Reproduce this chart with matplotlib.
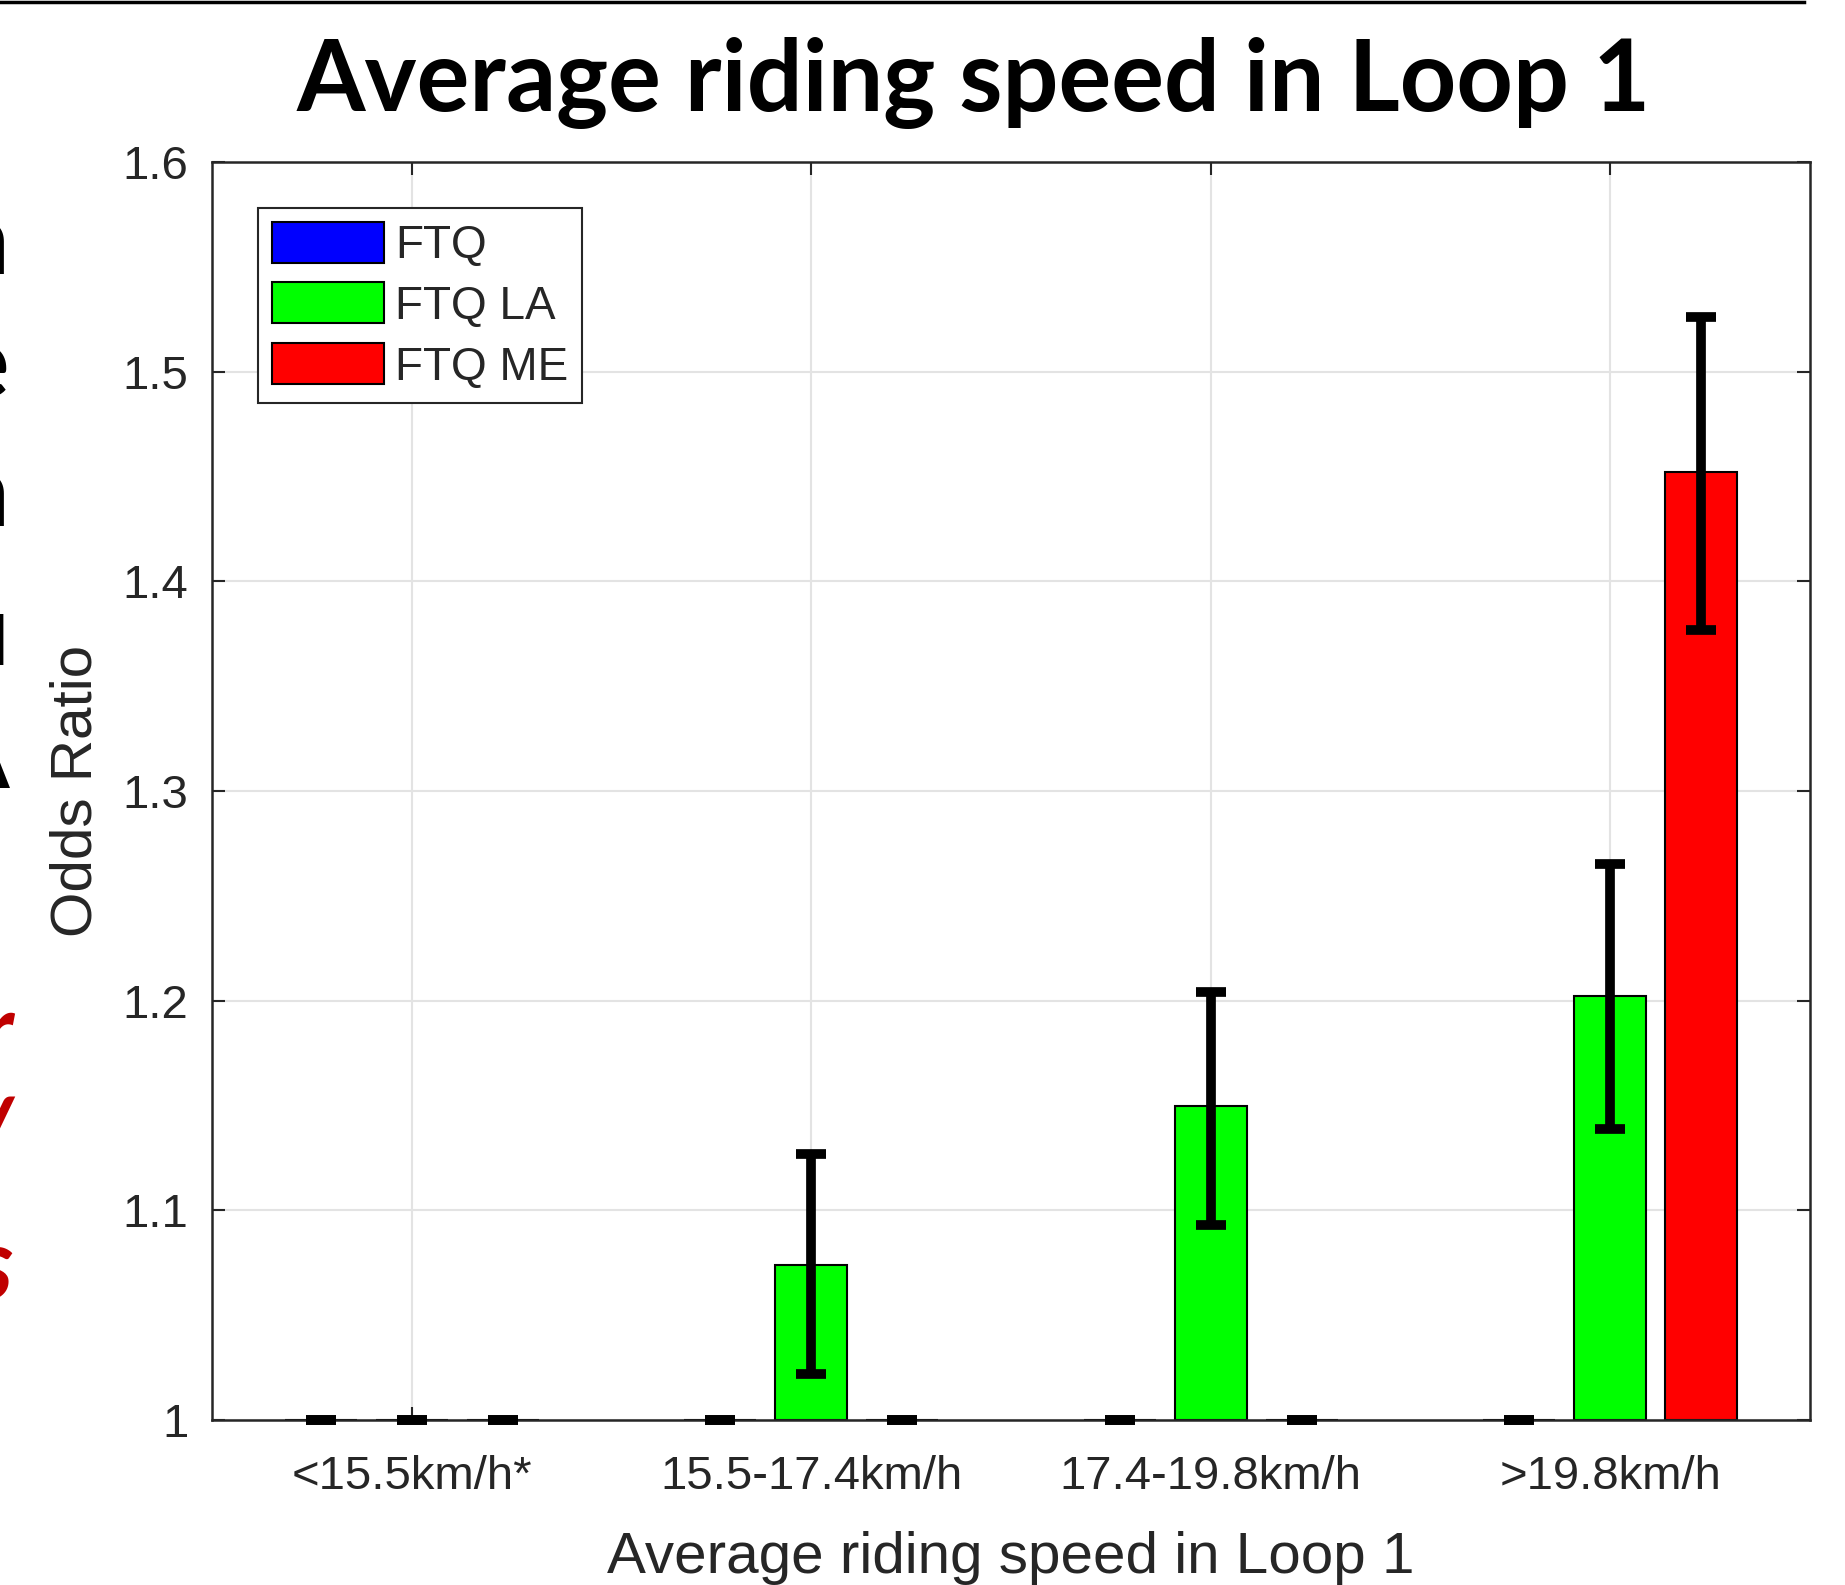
import numpy as np
import matplotlib
matplotlib.use("Agg")
import matplotlib.pyplot as plt
from matplotlib.lines import Line2D

# Data (odds ratios, reference level = 1)
groups = ["<15.5km/h*", "15.5-17.4km/h", "17.4-19.8km/h", ">19.8km/h"]
series = ["FTQ", "FTQ LA", "FTQ ME"]
colors = ["#0000FF", "#00FF00", "#FF0000"]

ftq = [1.0, 1.0, 1.0, 1.0]
ftq_la = [1.0, 1.074, 1.150, 1.202]
ftq_me = [1.0, 1.0, 1.0, 1.452]

ftq_lo = [1.0, 1.0, 1.0, 1.0]
ftq_hi = [1.0, 1.0, 1.0, 1.0]
ftq_la_lo = [1.0, 1.022, 1.093, 1.139]
ftq_la_hi = [1.0, 1.127, 1.204, 1.265]
ftq_me_lo = [1.0, 1.0, 1.0, 1.377]
ftq_me_hi = [1.0, 1.0, 1.0, 1.526]

values = [ftq, ftq_la, ftq_me]
lows = [ftq_lo, ftq_la_lo, ftq_me_lo]
highs = [ftq_hi, ftq_la_hi, ftq_me_hi]

W, H = 1845, 1585
font = "Liberation Sans"
grey = "#262626"

fig = plt.figure(figsize=(W / 100, H / 100), dpi=100)
fig.patch.set_facecolor("white")
ax = fig.add_axes([212 / W, 1 - 1420 / H, (1810 - 212) / W, (1420 - 162) / H])

x = np.arange(1, len(groups) + 1)
offsets = [-0.2275, 0.0, 0.2275]
width = 0.18

for vals, lo, hi, off, col, name in zip(values, lows, highs, offsets, colors, series):
    vals = np.array(vals)
    ax.bar(x + off, vals - 1, bottom=1, width=width, color=col,
           edgecolor="black", linewidth=1.5, label=name, zorder=2)
    yerr = np.vstack([vals - np.array(lo), np.array(hi) - vals])
    eb = ax.errorbar(x + off, vals, yerr=yerr, fmt="none", ecolor="black",
                     elinewidth=7, capsize=11, capthick=7, zorder=3)
    for cap in eb[1]:
        cap.set_clip_on(False)

ax.set_xlim(0.5, 4.5)
ax.set_ylim(1.0, 1.6)
ax.set_xticks(x)
ax.set_xticklabels(groups)
ax.set_yticks([1.0, 1.1, 1.2, 1.3, 1.4, 1.5, 1.6])
ax.set_yticklabels(["1", "1.1", "1.2", "1.3", "1.4", "1.5", "1.6"])

ax.grid(True, color="#e3e3e3", linewidth=1.5, zorder=0)
ax.set_axisbelow(True)
ax.tick_params(direction="in", length=9.5, width=1.5, color=grey,
               top=True, right=True, labelsize=34, labelcolor=grey)
ax.tick_params(axis="x", pad=25)
ax.tick_params(axis="y", pad=17)
for t in ax.get_xticklabels() + ax.get_yticklabels():
    t.set_fontfamily(font)
for sp in ax.spines.values():
    sp.set_color(grey)
    sp.set_linewidth(1.8)

ax.set_xlabel("Average riding speed in Loop 1", fontsize=42, color=grey,
              fontfamily=font)
ax.xaxis.set_label_coords(0.5, -0.088)
ax.set_ylabel("Odds Ratio", fontsize=42, color=grey, fontfamily=font)
ax.yaxis.set_label_coords(-0.068, 0.5)

leg = ax.legend(loc="upper left", prop={"family": font, "size": 33},
                handlelength=2.45, handleheight=1.0, handletextpad=0.25,
                labelspacing=0.32, borderpad=0.3, borderaxespad=1.0,
                fancybox=False, framealpha=1, edgecolor=grey)
leg.get_frame().set_linewidth(1.5)
for t in leg.get_texts():
    t.set_color(grey)

# slide title
fig.text(974 / W, 1 - 83 / H, "Average riding speed in Loop 1", fontsize=71,
         fontweight="bold", fontfamily="Lato", ha="center", va="center",
         color="black")

# line at the very top of the slide crop
fig.add_artist(Line2D([0, 1804 / W], [1 - 1.5 / H, 1 - 1.5 / H],
                      transform=fig.transFigure, color="black", linewidth=2.5))

# clipped letters from the slide's left column
for ch, py in [("n", 245), ("e", 368), ("n", 497), ("u", 636), ("A", 760)]:
    fig.text(9 / W, 1 - py / H, ch, fontsize=72, fontweight="bold",
             fontfamily="Lato", ha="right", va="center", color="black")
for ch, py in [("r", 1035), ("/", 1140), ("s", 1270)]:
    fig.text(13 / W, 1 - py / H, ch, fontsize=72, fontweight="bold",
             fontstyle="italic", fontfamily="Lato", ha="right", va="center",
             color="#C00000")

fig.savefig("out.png", dpi=100, facecolor="white")
